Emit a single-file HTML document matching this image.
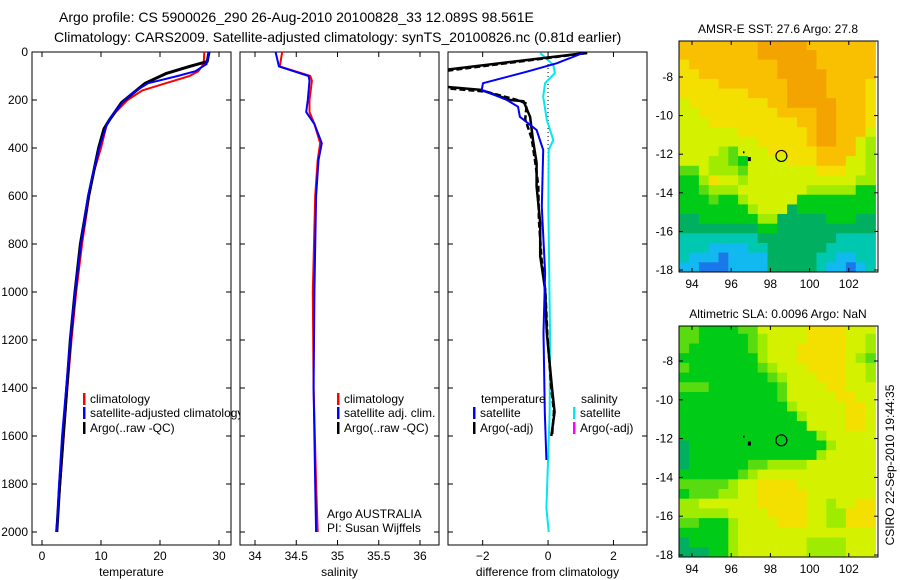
<!DOCTYPE html>
<html><head><meta charset="utf-8"><style>
html,body{margin:0;padding:0;background:#fff;width:900px;height:580px;overflow:hidden}
svg{font-family:"Liberation Sans",sans-serif;font-size:12px}
</style></head><body>
<svg id="fig" width="900" height="580" viewBox="0 0 900 580">
<text x="59" y="22" font-size="14">Argo profile: CS 5900026_290 26-Aug-2010 20100828_33 12.089S 98.561E</text>
<text x="54" y="42" font-size="14">Climatology: CARS2009. Satellite-adjusted climatology: synTS_20100826.nc (0.81d earlier)</text>
</svg>
<script>
// ---- data ----
const depthTicks=[0,200,400,600,800,1000,1200,1400,1600,1800,2000];
const tempTicks=[0,10,20,30];
const salTicks=[34,34.5,35,35.5,36];
const diffTicks=[-2,0,2];
const tempClimDepth=[0,50,80,100,130,160,200,250,300,400,500,600,800,1000,1200,1400,1600,1800,2000];
const tempClimVal=[27.5,27.4,26.5,25,21,17,14.5,12.5,11,10,8.8,8,6.8,5.8,5,4.3,3.7,3.1,2.4];
const tempSatDepth=[0,50,80,100,130,160,200,260,300,400,500,600,800,1000,1200,1400,1600,1800,2000];
const tempSatVal=[28.3,27.9,26,23,18,16,14,12,11,9.7,8.7,7.8,6.6,5.6,4.8,4.1,3.4,2.9,2.5];
const tempArgoDepth=[0,40,60,90,130,170,210,280,320,400,600,800,1000,1200,1400,1600,1800,2000];
const tempArgoVal=[28.3,28,25,21,17.5,15.5,13.5,11.5,10.5,9.6,7.9,6.5,5.6,4.8,4.2,3.6,3.0,2.5];
const salClimDepth=[0,60,100,120,200,250,300,380,450,600,1000,1400,1800,2000];
const salClimVal=[34.33,34.3,34.67,34.69,34.66,34.66,34.72,34.79,34.76,34.73,34.7,34.71,34.74,34.76];
const salSatDepth=[0,60,100,120,200,250,300,380,450,600,1000,1400,1800,2000];
const salSatVal=[34.25,34.29,34.65,34.66,34.64,34.62,34.72,34.81,34.77,34.74,34.72,34.71,34.73,34.74];
const dTempSatDepth=[4,47,82,130,158,200,228,270,325,408,645,920,1170,1500,1700];
const dTempSatVal=[1.07,0.26,-0.65,-1.99,-2.03,-1.26,-0.92,-0.86,-0.35,-0.15,-0.19,-0.09,-0.14,-0.1,-0.05];
const dTempArgoDepth=[4,75,110,144,158,200,205,270,367,462,560,712,850,990,1170,1400,1500,1600];
const dTempArgoVal=[1.15,-3.2,-4,-3.2,-2.05,-1.16,-0.75,-0.55,-0.46,-0.35,-0.35,-0.24,-0.24,-0.09,-0.04,0.12,0.2,0.1];
const dTempArgo2Depth=[4,80,110,150,165,200,215,280,360,470,560,700,860,1000,1180,1400,1500,1600];
const dTempArgo2Val=[1.2,-3.2,-4,-3.2,-1.9,-0.95,-0.65,-0.7,-0.5,-0.38,-0.3,-0.28,-0.2,-0.08,-0.02,0.1,0.18,0.12];
const dSalDepth=[4,54,88,130,186,283,367,408,645,1170,1500,1900,2000];
const dSalVal=[-0.24,0.16,0.21,-0.09,-0.15,-0.04,0.16,0.02,0.01,0.06,0.05,-0.05,0.02];
const sstRows=["99999999aaaaa9999999","99999999aaaaaa999999","8999999999aaaa999999","8899999999aaaaa99999","88889999999aaaa99998","88888889999aaaa99998","78888888899aaaaa9998","77888888889999aa9998","77788888888899aa9998","77777788888889aa9997","77777777888889aa9976","77776577788888999976","77766547777888999776","55766657777777888776","44687767777777777766","44566677777776666644","44454467777744444444","44444446777344444444","33444444663333344433","33333333443333333333","22222222333333332222","22211112233333322222","21110111133333221122","11000111133333211012"];
const slaRows=["55444455777778888777","55444445677778888776","54444445677788888776","44444444677788888765","54444444567778888776","44444444456777888776","55544444445777788777","44444444445777778877","44444444444677777887","44444444444467777887","44444444444447777887","44444444444444677777","34444444444444467777","34444444444444677777","34444445566667777777","44444456777777777777","55555677888877777777","45556677888887777777","66777777888887767788","66666777788887766888","55444677778887766888","44444677777777777777","34444677777776666777","33344677777776666777"];
const mapLonTicks=[94,96,98,100,102];
const mapLatTicks=[-8,-10,-12,-14,-16,-18];
const floatLon=98.561, floatLat=-12.089;
const palette={"0":"#1a78e8","1":"#12b8f0","2":"#00c8b0","3":"#00b060","4":"#00cc18","5":"#58dc10","6":"#a0ec00","7":"#d4f200","8":"#f4e000","9":"#f8c000","a":"#f4a400"};

const NS="http://www.w3.org/2000/svg";
const svg=document.getElementById('fig');
function mk(tag,attrs,parent){const e=document.createElementNS(NS,tag);for(const k in attrs)e.setAttribute(k,attrs[k]);(parent||svg).appendChild(e);return e;}
function txt(x,y,s,anchor,parent,extra){const t=mk('text',Object.assign({x:x,y:y,'text-anchor':anchor||'start'},extra||{}),parent);t.textContent=s;return t;}

const yTop=52,yBot=545,pxPerM=0.24;
const yD=d=>yTop+d*pxPerM;
const panels=[
 {name:'temperature',x0:32,x1:231,v0:-1.695,scale:5.9,ticks:tempTicks,label:'temperature'},
 {name:'salinity',x0:240,x1:439,v0:33.818,scale:82.5,ticks:salTicks,label:'salinity'},
 {name:'difference',x0:448,x1:647,v0:-3.06,scale:32.7,ticks:diffTicks,label:'difference from climatology'}
];
panels.forEach((p,i)=>{
 const g=mk('g',{});
 
 
 const bg=mk('rect',{x:p.x0,y:yTop,width:p.x1-p.x0,height:yBot-yTop,fill:'#fff',stroke:'#000','stroke-width':1},g);
 
 
 const cp=mk('clipPath',{id:'clip'+i},g);
 mk('rect',{x:p.x0,y:yTop,width:p.x1-p.x0,height:yBot-yTop},cp);
 p.g=g;p.clip='url(#clip'+i+')';
 p.xv=v=>p.x0+(v-p.v0)*p.scale;
 p.ticks.forEach(t=>{const x=p.xv(t);
  mk('line',{x1:x,x2:x,y1:yBot,y2:yBot-5,stroke:'#000'},g);
  mk('line',{x1:x,x2:x,y1:yTop,y2:yTop+5,stroke:'#000'},g);
  const lb=txt(x,yBot+15,String(t).replace('-','\u2212'),'middle',g);
  
  
 });
 depthTicks.forEach(d=>{const y=yD(d);
  mk('line',{x1:p.x0,x2:p.x0+5,y1:y,y2:y,stroke:'#000'},g);
  mk('line',{x1:p.x1,x2:p.x1-5,y1:y,y2:y,stroke:'#000'},g);
  if(i===0){const lb=txt(28,y+4,String(d),'end',g);
   
   }
 });
 const xl=txt((p.x0+p.x1)/2,576,p.label,'middle',g);
 
 
});
function series(p,depths,vals,color,w,name,dash){
 const pts=depths.map((d,k)=>p.xv(vals[k]).toFixed(1)+','+yD(d).toFixed(1)).join(' ');
 const l=mk('polyline',{points:pts,fill:'none',stroke:color,'stroke-width':w,'clip-path':p.clip,'stroke-linejoin':'round'},p.g);
 if(dash)l.setAttribute('stroke-dasharray',dash);
 
 
}
const [P1,P2,P3]=panels;
series(P1,tempClimDepth,tempClimVal,'#f00',2,'temp-climatology-line');
series(P1,tempArgoDepth,tempArgoVal,'#000',3,'temp-argo-line');
series(P1,tempSatDepth,tempSatVal,'#00f',2,'temp-satellite-line');
series(P2,salClimDepth,salClimVal,'#f00',2,'sal-climatology-line');
series(P2,salSatDepth,salSatVal,'#00f',2,'sal-satellite-line');
const z=mk('line',{x1:P3.xv(0),x2:P3.xv(0),y1:yTop,y2:yD(620),stroke:'#000','stroke-dasharray':'1,3'},P3.g);


series(P3,dSalDepth,dSalVal,'#00e8f0',2,'sal-diff-satellite-line');
series(P3,dTempArgoDepth,dTempArgoVal,'#000',2.5,'temp-diff-argo-line');
series(P3,dTempArgo2Depth,dTempArgo2Val,'#000',2.5,'temp-diff-argo-dashed-line','6,3');
series(P3,dTempSatDepth,dTempSatVal,'#00f',2,'temp-diff-satellite-line');

function legend(g,x,y,color,label,name){
 const m=mk('rect',{x:x,y:y-10,width:2.5,height:12,fill:color},g);
 
 
 const t=txt(x+7,y,label,'start',g);
 
 
}
legend(P1.g,83,403,'#f00','climatology','legend-climatology');
legend(P1.g,83,417,'#00f','satellite-adjusted climatology','legend-satellite-adjusted');
legend(P1.g,83,432,'#000','Argo(..raw -QC)','legend-argo');
svg.appendChild(P2.g);svg.appendChild(P3.g);
legend(P2.g,337,403,'#f00','climatology','legend-sal-climatology');
legend(P2.g,337,417,'#00f','satellite adj. clim.','legend-sal-satellite');
legend(P2.g,337,432,'#000','Argo(..raw -QC)','legend-sal-argo');
let t1=txt(327,518,'Argo AUSTRALIA','start',P2.g);


let t2=txt(327,532,'PI: Susan Wijffels','start',P2.g);


let h1=txt(481,403,'temperature','start',P3.g);


let h2=txt(581,403,'salinity','start',P3.g);


legend(P3.g,473,417,'#00f','satellite','legend-temp-satellite');
legend(P3.g,473,432,'#000','Argo(-adj)','legend-temp-argo');
legend(P3.g,573,417,'#00e8f0','satellite','legend-sal-diff-satellite');
legend(P3.g,573,432,'#f0f','Argo(-adj)','legend-sal-diff-argo');

function drawMap(rows,top,bottom,lat8y,title,name){
 const g=mk('g',{});
 
 
 const x0=679,x1=878,lonPx=19.6;
 const latPx=((bottom-2)-lat8y)/10;
 const xl=lon=>692+(lon-94)*lonPx;
 const yl=lat=>lat8y+(-8-lat)*latPx;
 const cp=mk('clipPath',{id:'clip'+name},g);
 mk('rect',{x:x0,y:top,width:x1-x0,height:bottom-top},cp);
 const cg=mk('g',{'clip-path':'url(#clip'+name+')'},g);
 const lon0=93.35,lat0=-6.1,cell=0.5;
 rows.forEach((r,ri)=>{for(let ci=0;ci<r.length;ci++){
  const lonA=lon0+ci*cell,latA=lat0-ri*cell;
  const c=mk('rect',{x:xl(lonA).toFixed(1),y:(yl(latA)).toFixed(1),width:(cell*lonPx+0.6).toFixed(1),height:(cell*latPx+0.6).toFixed(1),fill:palette[r[ci]]},cg);
  
  
 }});
 mk('rect',{x:x0,y:top,width:x1-x0,height:bottom-top,fill:'none',stroke:'#000'},g);
 mapLonTicks.forEach(l=>{const x=xl(l);
  mk('line',{x1:x,x2:x,y1:bottom,y2:bottom-4,stroke:'#000'},g);
  mk('line',{x1:x,x2:x,y1:top,y2:top+4,stroke:'#000'},g);
  const t=txt(x,bottom+16,String(l),'middle',g);
  
  });
 mapLatTicks.forEach(l=>{const y=yl(l);
  mk('line',{x1:x0,x2:x0+4,y1:y,y2:y,stroke:'#000'},g);
  mk('line',{x1:x1,x2:x1-4,y1:y,y2:y,stroke:'#000'},g);
  const t=txt(673,y+4,'-'+Math.abs(l),'end',g);
  
  });
 const ci=mk('circle',{cx:xl(floatLon),cy:yl(floatLat),r:5.5,fill:'none',stroke:'#000','stroke-width':1.2},g);
 
 
 mk('rect',{x:xl(96.85),y:yl(-12.15),width:3,height:4,fill:'#000'},g);
 mk('rect',{x:xl(96.6),y:yl(-11.85),width:1.5,height:2,fill:'#000'},g);
 const tt=txt(778,top-8,title,'middle',g);
 
 
}
drawMap(sstRows,41,272,77,'AMSR-E SST: 27.6 Argo: 27.8','sst-map');
drawMap(slaRows,326,557,361,'Altimetric SLA: 0.0096 Argo: NaN','sla-map');
const rt=txt(0,0,'CSIRO 22-Sep-2010 19:44:35','middle',svg,{transform:'translate(894,465) rotate(-90)'});


</script>
</body></html>
